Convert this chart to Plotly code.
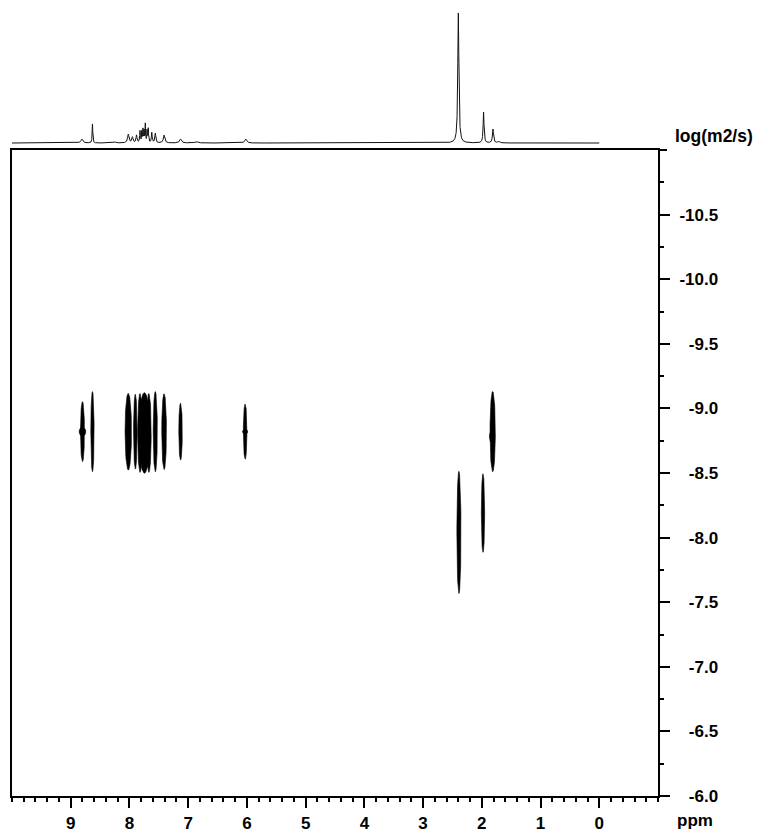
import numpy as np
import plotly.graph_objects as go

# ---- 1D proton trace (peak list: position ppm, relative height, half width ppm)
SPEC_PPM = [8.81, 8.63, 8.25, 8.02, 7.95, 7.88, 7.82, 7.79, 7.77, 7.75, 7.73,
            7.70, 7.68, 7.62, 7.56, 7.41, 7.13, 6.86, 6.02, 2.40, 1.97, 1.81, 1.71]
SPEC_INT = [0.030, 0.146, 0.008, 0.066, 0.044, 0.058, 0.090, 0.080, 0.100, 0.085, 0.140,
            0.090, 0.105, 0.078, 0.072, 0.060, 0.030, 0.011, 0.030, 1.000, 0.236, 0.106, 0.010]
SPEC_HWHM = [0.020, 0.006, 0.020, 0.015, 0.012, 0.010, 0.007, 0.005, 0.006, 0.005, 0.005,
             0.006, 0.006, 0.008, 0.010, 0.015, 0.020, 0.030, 0.020, 0.011, 0.009, 0.011, 0.020]

# ---- DOSY cross peaks: chemical shift, log D, half extent in log D, half extent in ppm
PEAK_PPM = [8.80, 8.63, 8.02, 7.90, 7.82, 7.745, 7.67, 7.56, 7.41, 7.13, 6.03,
            2.39, 1.98, 1.815, 8.80, 6.03, 1.83]
PEAK_LOGD = [-8.82, -8.82, -8.82, -8.82, -8.81, -8.81, -8.81, -8.82, -8.82, -8.82, -8.82,
             -8.04, -8.19, -8.82, -8.82, -8.82, -8.78]
PEAK_HALF_D = [0.232, 0.310, 0.297, 0.290, 0.305, 0.312, 0.305, 0.310, 0.293, 0.220, 0.213,
               0.473, 0.304, 0.310, 0.035, 0.018, 0.045]
PEAK_HALF_PPM = [0.034, 0.028, 0.055, 0.030, 0.040, 0.095, 0.040, 0.035, 0.040, 0.030, 0.030,
                 0.035, 0.028, 0.045, 0.057, 0.045, 0.040]

# ---- axis ticks
X_TICKS = [9, 8, 7, 6, 5, 4, 3, 2, 1, 0]
Y_TICKS = [-10.5, -10.0, -9.5, -9.0, -8.5, -8.0, -7.5, -7.0, -6.5, -6.0]

FONT = "Liberation Sans, Arial, sans-serif"

# build the 1D lineshape as a sum of Lorentzians
grid = np.unique(np.concatenate([np.linspace(0, 10, 8001), np.array(SPEC_PPM)]))[::-1]
spec = np.zeros_like(grid)
for c, h, w in zip(SPEC_PPM, SPEC_INT, SPEC_HWHM):
    spec += h * w ** 2 / ((grid - c) ** 2 + w ** 2)

fig = go.Figure()
fig.add_trace(go.Scatter(x=grid, y=spec, mode="lines", xaxis="x", yaxis="y2",
                         line=dict(color="#111111", width=1), hoverinfo="skip",
                         showlegend=False))

# cross peaks drawn as filled ellipses
t = np.linspace(0, 2 * np.pi, 90)
for cx, cy, bh, aw in zip(PEAK_PPM, PEAK_LOGD, PEAK_HALF_D, PEAK_HALF_PPM):
    fig.add_trace(go.Scatter(x=cx + aw * np.cos(t), y=cy + bh * np.sin(t),
                             mode="lines", fill="toself", fillcolor="black",
                             line=dict(color="black", width=0.6),
                             xaxis="x", yaxis="y", hoverinfo="skip", showlegend=False))

W, H = 761, 832
ML, MR, MT, MB = 12, 103, 0, 36
pw = W - ML - MR
ph = H - MT - MB
y_top_2d = (ph - 150) / ph
y_spec_bottom = (ph - 146) / ph


def fmt_y(v):
    s = f"{v:.1f}"
    return s if len(s) >= 5 else "\u2007" + s


fig.update_layout(
    width=W, height=H,
    margin=dict(l=ML, r=MR, t=MT, b=MB, pad=0),
    paper_bgcolor="white", plot_bgcolor="white",
    font=dict(family=FONT, color="black"),
    xaxis=dict(
        range=[10, -1], domain=[0, 1], anchor="y",
        showline=True, linewidth=2, linecolor="black", mirror=True,
        showgrid=False, zeroline=False,
        ticks="outside", ticklen=10, tickwidth=2, tickcolor="black",
        tickvals=X_TICKS, ticktext=[str(v) for v in X_TICKS],
        tickfont=dict(family=FONT, size=17, weight="bold", color="black"),
        ticklabelstandoff=1,
        minor=dict(dtick=0.2, tick0=0, ticks="outside", ticklen=4, tickwidth=2,
                   tickcolor="black", showgrid=False),
    ),
    yaxis=dict(
        range=[-6, -11], domain=[0, y_top_2d], anchor="x", side="right",
        showline=True, linewidth=2, linecolor="black", mirror=True,
        showgrid=False, zeroline=False,
        ticks="outside", ticklen=10, tickwidth=2, tickcolor="black",
        tickvals=Y_TICKS, ticktext=[fmt_y(v) for v in Y_TICKS],
        tickfont=dict(family=FONT, size=17, weight="bold", color="black"),
        ticklabelstandoff=6,
        minor=dict(dtick=0.25, tick0=-11, ticks="outside", ticklen=4, tickwidth=2,
                   tickcolor="black", showgrid=False),
    ),
    yaxis2=dict(
        range=[-0.023, 1.1], domain=[y_spec_bottom, 1], anchor="x",
        visible=False, showgrid=False, zeroline=False,
    ),
    shapes=[
        dict(type="line", xref="paper", yref="paper", x0=1, x1=(667 - ML) / pw,
             y0=y_top_2d, y1=y_top_2d, line=dict(color="black", width=2)),
        dict(type="line", xref="paper", yref="paper", x0=1, x1=(667 - ML) / pw,
             y0=0, y1=0, line=dict(color="black", width=2)),
    ],
    annotations=[
        dict(text="log(m2/s)", xref="paper", yref="paper",
             x=(673 - ML) / pw, y=(ph - 136) / ph, xanchor="left", yanchor="middle",
             showarrow=False, font=dict(family=FONT, size=17.5, weight="bold", color="black")),
        dict(text="ppm", xref="paper", yref="paper",
             x=(675 - ML) / pw, y=(ph - 821) / ph, xanchor="left", yanchor="middle",
             showarrow=False, font=dict(family=FONT, size=17, weight="bold", color="black")),
    ],
)

fig.write_html("out.html")
